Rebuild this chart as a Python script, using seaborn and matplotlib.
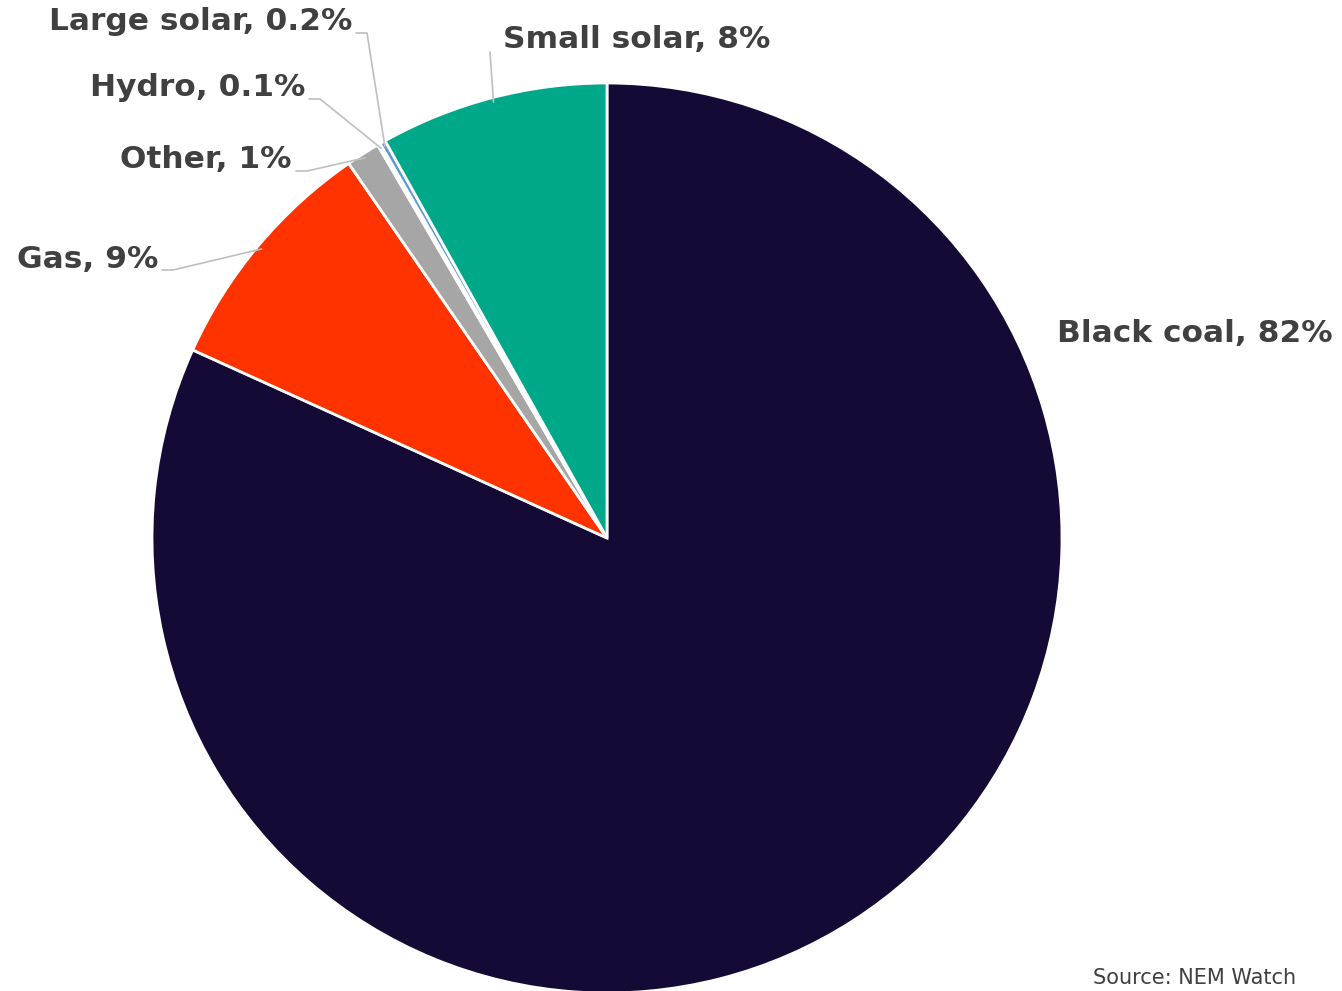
import numpy as np
import matplotlib
matplotlib.use("Agg")
import matplotlib.pyplot as plt
import seaborn as sns

# ---- data ----
categories = ["Black coal", "Gas", "Other", "Hydro", "Large solar", "Small solar"]
shares = [81.7, 8.6, 1.2, 0.1, 0.2, 8.1]
label_text = ["Black coal, 82%", "Gas, 9%", "Other, 1%", "Hydro, 0.1%",
              "Large solar, 0.2%", "Small solar, 8%"]
colors = ["#150a35", "#ff3300", "#a6a6a6", "#4472c4", "#5b9bd5", "#00a88a"]
source_text = "Source: NEM Watch"

sns.set_theme(style="white")
plt.rcParams['font.family'] = ['DejaVu Sans']

W, H = 1342, 991
fig = plt.figure(figsize=(W / 100, H / 100), dpi=100)
ax = fig.add_axes([0, 0, 1, 1])

cx, cy, R = 607, H - 538, 455
wedges, _ = ax.pie(shares, colors=colors, startangle=90, counterclock=False,
                   center=(cx, cy), radius=R, frame=True,
                   wedgeprops=dict(edgecolor="white", linewidth=2))
ax.set_xlim(0, W)
ax.set_ylim(0, H)
ax.set_aspect("equal")
ax.axis("off")

txt_color = "#404040"
fs = 22.5

def rim(i, f=1.0):
    w = wedges[i]
    a = np.deg2rad((w.theta1 + w.theta2) / 2)
    return cx + R * f * np.cos(a), cy + R * f * np.sin(a)

# label layout (pixel coords from top)
layout = {
    "Black coal": dict(x=1057, y=334, ha="left"),
    "Gas": dict(x=158, y=259, ha="right"),
    "Other": dict(x=292, y=160, ha="right"),
    "Hydro": dict(x=305, y=88, ha="right"),
    "Large solar": dict(x=352, y=22, ha="right"),
    "Small solar": dict(x=503, y=40, ha="left"),
}
line_c = "#bfbfbf"
for i, cat in enumerate(categories):
    L = layout[cat]
    ax.text(L["x"], H - L["y"], label_text[i], ha=L["ha"], va="center",
            fontsize=fs, fontweight="bold", color=txt_color)
    if cat == "Black coal":
        continue
    px, py = rim(i, 0.99)
    if cat == "Small solar":
        ax.plot([490, px], [H - 52, py], color=line_c, lw=1.2)
    else:
        y0 = H - (L["y"] + 11)
        x0 = L["x"] + 4
        ax.plot([x0, x0 + 11, px], [y0, y0, py], color=line_c, lw=1.2)

ax.text(1093, H - 988, source_text, ha="left", va="bottom", fontsize=15,
        color=txt_color)

fig.savefig("out.png", dpi=100)
